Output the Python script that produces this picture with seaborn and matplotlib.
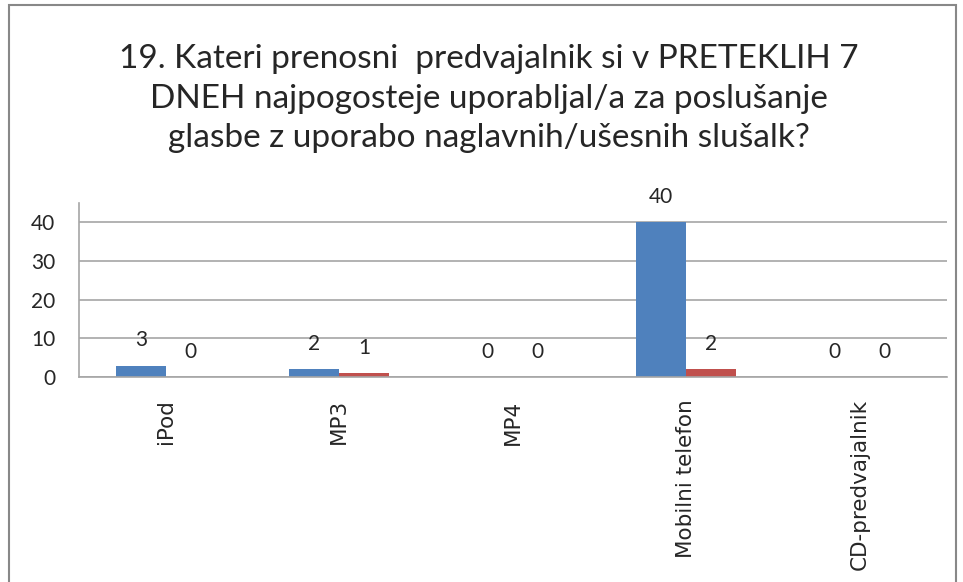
import pandas as pd
import seaborn as sns
import matplotlib.pyplot as plt
from matplotlib.patches import Rectangle

# chart data
categories = ['iPod', 'MP3', 'MP4', 'Mobilni telefon', 'CD-predvajalnik']
series_a = [3, 2, 0, 40, 0]
series_b = [0, 1, 0, 2, 0]
title = ('19. Kateri prenosni  predvajalnik si v PRETEKLIH 7\n'
         'DNEH najpogosteje uporabljal/a za poslušanje\n'
         'glasbe z uporabo naglavnih/ušesnih slušalk?')

df = pd.DataFrame({
    'kategorija': categories * 2,
    'vrednost': series_a + series_b,
    'serija': ['A'] * len(categories) + ['B'] * len(categories),
})

sns.set_style('white')
fig = plt.figure(figsize=(9.63, 5.82), dpi=100)
ax = fig.add_axes([0.082, 0.352, 0.901, 0.299])

sns.barplot(data=df, x='kategorija', y='vrednost', hue='serija',
            palette=['#4F81BD', '#C0504D'], width=0.576, saturation=1,
            linewidth=0, legend=False, ax=ax)

#Data labels above each bar
for cont in ax.containers:
    ax.bar_label(cont, fmt='%d', padding=11, fontsize=15, family='Lato')

ax.set_ylim(0, 45)
ax.set_xlim(-0.5, 4.5)
ax.set_yticks([0, 10, 20, 30, 40])
ax.yaxis.grid(True, color='#A6A6A6', linewidth=1.2)
ax.set_axisbelow(True)
ax.set_xlabel('')
ax.set_ylabel('')
for s in ['top', 'right']:
    ax.spines[s].set_visible(False)
ax.spines['left'].set_color('#A6A6A6')
ax.spines['bottom'].set_color('#A6A6A6')
ax.spines['left'].set_linewidth(1.2)
ax.spines['bottom'].set_linewidth(1.2)
ax.tick_params(axis='y', length=0, pad=17, labelsize=15, labelfontfamily='Lato')
ax.tick_params(axis='x', length=0, pad=16, labelsize=15.5,
               labelfontfamily='DejaVu Sans', labelrotation=90)
for lbl in ax.get_xticklabels():
    lbl.set_va('top')
    lbl.set_ha('center')

fig.text(0.508, 1 - 44 / 582, title, ha='center', va='top', fontsize=24,
         family='Lato', linespacing=1.4)

# outer border of the chart area
fig.patches.append(Rectangle((9 / 963, -0.05), 947 / 963, 1.05 - 5 / 582,
                             transform=fig.transFigure, fill=False,
                             edgecolor='#888888', linewidth=1.5))

plt.savefig('out.png', dpi=100)
